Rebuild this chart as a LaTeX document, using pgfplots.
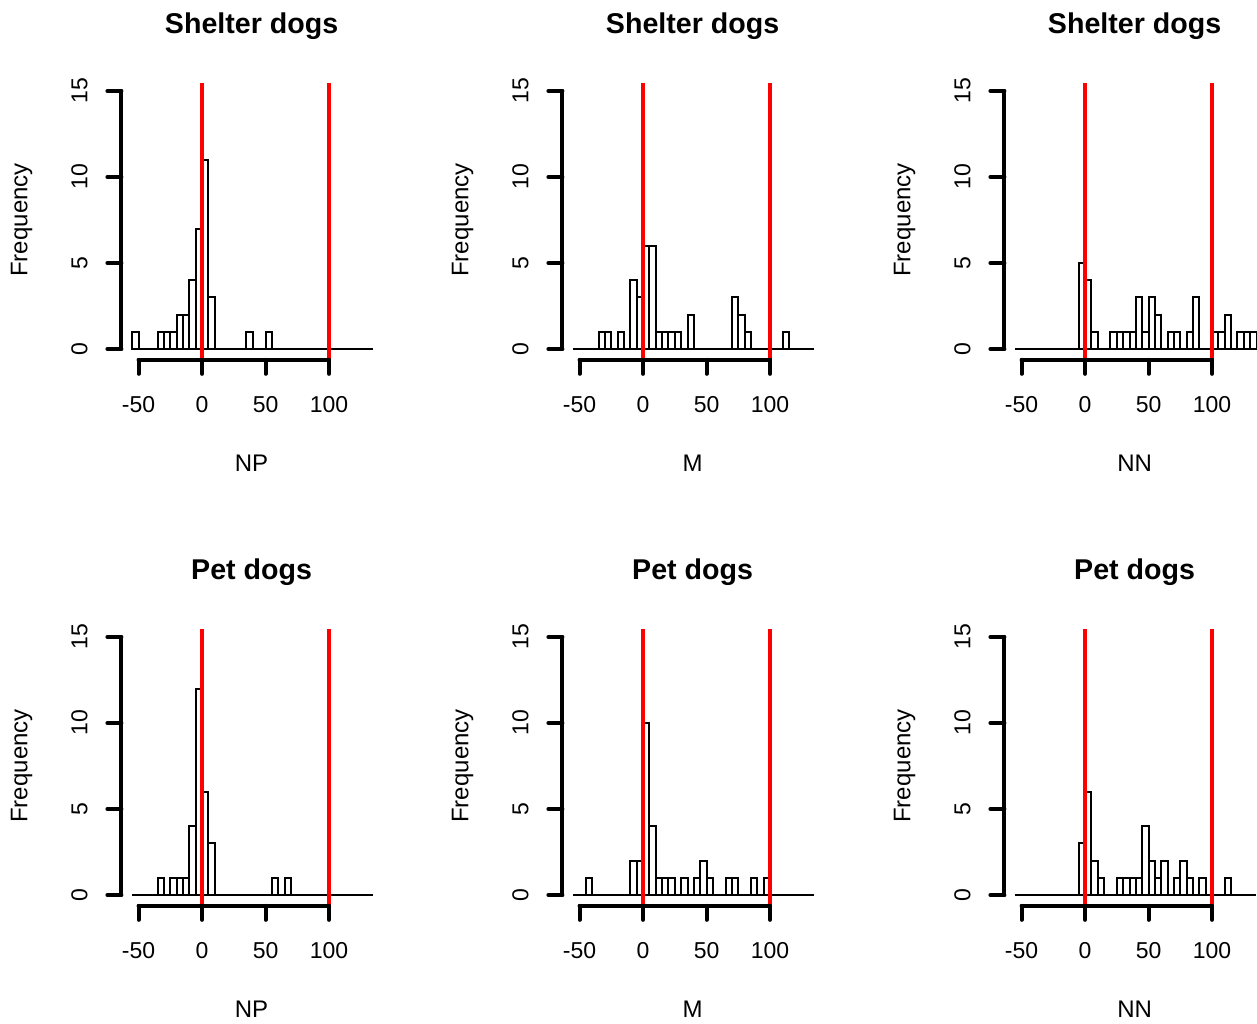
\documentclass[border=0pt]{standalone}
\usepackage{fontspec}
\setmainfont{Liberation Sans}
\usepackage{pgfplots}
\usepackage{pgfplotstable}
\pgfplotsset{compat=1.18}

% Shelter dogs
\pgfplotstableread{
x y
-55 1
-50 0
-45 0
-40 0
-35 1
-30 1
-25 1
-20 2
-15 2
-10 4
-5 7
0 11
5 3
10 0
15 0
20 0
25 0
30 0
35 1
40 0
45 0
50 1
55 0
}\shelterNP
\pgfplotstableread{
x y
-35 1
-30 1
-25 0
-20 1
-15 0
-10 4
-5 3
0 6
5 6
10 1
15 1
20 1
25 1
30 0
35 2
40 0
45 0
50 0
55 0
60 0
65 0
70 3
75 2
80 1
85 0
90 0
95 0
100 0
105 0
110 1
115 0
}\shelterM
\pgfplotstableread{
x y
-5 5
0 4
5 1
10 0
15 0
20 1
25 1
30 1
35 1
40 3
45 1
50 3
55 2
60 0
65 1
70 1
75 0
80 1
85 3
90 0
95 0
100 1
105 1
110 2
115 0
120 1
125 1
130 1
135 0
}\shelterNN
% Pet dogs
\pgfplotstableread{
x y
-35 1
-30 0
-25 1
-20 1
-15 1
-10 4
-5 12
0 6
5 3
10 0
15 0
20 0
25 0
30 0
35 0
40 0
45 0
50 0
55 1
60 0
65 1
70 0
}\petNP
\pgfplotstableread{
x y
-45 1
-40 0
-35 0
-30 0
-25 0
-20 0
-15 0
-10 2
-5 2
0 10
5 4
10 1
15 1
20 1
25 0
30 1
35 0
40 1
45 2
50 1
55 0
60 0
65 1
70 1
75 0
80 0
85 1
90 0
95 1
100 0
}\petM
\pgfplotstableread{
x y
-5 3
0 6
5 2
10 1
15 0
20 0
25 1
30 1
35 1
40 1
45 4
50 2
55 1
60 2
65 0
70 1
75 2
80 1
85 0
90 1
95 0
100 0
105 0
110 1
115 0
}\petNN

\newcommand{\ticksize}{\fontsize{11.5}{13}\selectfont}
\newcommand{\labsize}{\fontsize{12}{14}\selectfont}
\newcommand{\titsize}{\fontsize{14.3}{16}\selectfont\bfseries}

\newcommand{\panel}[5]{%
\begin{axis}[at={(#1,#2)}, anchor=south west, scale only axis,
  width=126.68pt, height=139.6pt,
  xmin=-63.5, xmax=136, ymin=-0.63, ymax=15.6,
  hide axis, clip=false]
\addplot[black, line width=1pt] coordinates {(-55,0) (134.5,0)};
\addplot[ybar interval, fill=white, draw=black, line width=1pt] table[x=x,y=y] {#3};
\addplot[red, line width=2.3pt] coordinates {(0,-0.63) (0,15.45)};
\addplot[red, line width=2.3pt] coordinates {(100,-0.63) (100,15.45)};
% x axis
\draw[line width=2pt, line cap=round] (axis cs:-50,-0.63) -- (axis cs:100,-0.63);
\draw[line width=2pt, line cap=round] (axis cs:-50,-0.63) -- ([yshift=-7pt]axis cs:-50,-0.63);
\draw[line width=2pt, line cap=round] (axis cs:0,-0.63) -- ([yshift=-7pt]axis cs:0,-0.63);
\draw[line width=2pt, line cap=round] (axis cs:50,-0.63) -- ([yshift=-7pt]axis cs:50,-0.63);
\draw[line width=2pt, line cap=round] (axis cs:100,-0.63) -- ([yshift=-7pt]axis cs:100,-0.63);
\node[anchor=base, font=\ticksize, inner sep=0pt] at ([yshift=-26.5pt]axis cs:-50,-0.63) {-50};
\node[anchor=base, font=\ticksize, inner sep=0pt] at ([yshift=-26.5pt]axis cs:0,-0.63) {0};
\node[anchor=base, font=\ticksize, inner sep=0pt] at ([yshift=-26.5pt]axis cs:50,-0.63) {50};
\node[anchor=base, font=\ticksize, inner sep=0pt] at ([yshift=-26.5pt]axis cs:100,-0.63) {100};
% y axis
\draw[line width=2pt, line cap=round] (axis cs:-63.5,0) -- (axis cs:-63.5,15);
\draw[line width=2pt, line cap=round] (axis cs:-63.5,0) -- ([xshift=-7pt]axis cs:-63.5,0);
\draw[line width=2pt, line cap=round] (axis cs:-63.5,5) -- ([xshift=-7pt]axis cs:-63.5,5);
\draw[line width=2pt, line cap=round] (axis cs:-63.5,10) -- ([xshift=-7pt]axis cs:-63.5,10);
\draw[line width=2pt, line cap=round] (axis cs:-63.5,15) -- ([xshift=-7pt]axis cs:-63.5,15);
\node[rotate=90, anchor=base, font=\ticksize, inner sep=0pt] at ([xshift=-17pt]axis cs:-63.5,0) {0};
\node[rotate=90, anchor=base, font=\ticksize, inner sep=0pt] at ([xshift=-17pt]axis cs:-63.5,5) {5};
\node[rotate=90, anchor=base, font=\ticksize, inner sep=0pt] at ([xshift=-17pt]axis cs:-63.5,10) {10};
\node[rotate=90, anchor=base, font=\ticksize, inner sep=0pt] at ([xshift=-17pt]axis cs:-63.5,15) {15};
% labels
\node[rotate=90, anchor=base, font=\labsize, inner sep=0pt] at ([xshift=-47pt]axis cs:-63.5,7.5) {Frequency};
\node[anchor=base, font=\labsize, inner sep=0pt] at ([yshift=-56pt]axis cs:39,-0.63) {#5};
\node[anchor=base, font=\titsize, inner sep=0pt] at ([yshift=163.2pt]axis cs:39,-0.63) {#4};
\end{axis}}

\begin{document}
\begin{tikzpicture}
\useasboundingbox (0,0) rectangle (628.5pt,511.5pt);
\panel{60.7pt}{331.58pt}{\shelterNP}{Shelter dogs}{NP}
\panel{281.2pt}{331.58pt}{\shelterM}{Shelter dogs}{M}
\panel{502.2pt}{331.58pt}{\shelterNN}{Shelter dogs}{NN}
\panel{60.7pt}{58.58pt}{\petNP}{Pet dogs}{NP}
\panel{281.2pt}{58.58pt}{\petM}{Pet dogs}{M}
\panel{502.2pt}{58.58pt}{\petNN}{Pet dogs}{NN}
\end{tikzpicture}
\end{document}
